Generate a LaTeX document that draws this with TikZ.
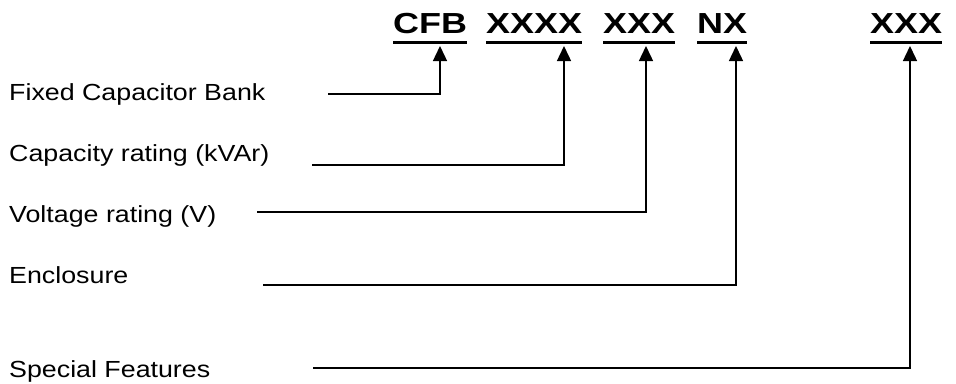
\documentclass[tikz,border=0pt]{standalone}
\usepackage{fontspec}
\usetikzlibrary{arrows.meta}
\newfontfamily\labelfont[FakeStretch=1.15]{Liberation Sans}
\newfontfamily\codefont[FakeStretch=1.24]{Liberation Sans Bold}

\begin{document}
\begin{tikzpicture}[x=1pt, y=-1pt,
  lbl/.style={inner sep=0pt, anchor=base west, font=\labelfont\fontsize{23.3}{26}\selectfont},
  code/.style={inner sep=0pt, anchor=base west, font=\codefont\fontsize{29}{32}\selectfont},
  uline/.style={line width=3.3pt},
  arr/.style={line width=1.4pt, -{Triangle[length=15pt, width=14pt]}}]

\useasboundingbox (0,0) rectangle (956,383);

\node[code] (cfb) at (393,33.3) {CFB};
\node[code] (kvar) at (486,33.3) {XXXX};
\node[code] (volt) at (603,33.3) {XXX};
\node[code] (encl) at (697,33.3) {NX};
\node[code] (feat) at (870,33.3) {XXX};

\draw[uline] ([yshift=-9pt]cfb.base west) -- ([yshift=-9pt]cfb.base east);
\draw[uline] ([yshift=-9pt]kvar.base west) -- ([yshift=-9pt]kvar.base east);
\draw[uline] ([yshift=-9pt]volt.base west) -- ([yshift=-9pt]volt.base east);
\draw[uline] ([yshift=-9pt]encl.base west) -- ([yshift=-9pt]encl.base east);
\draw[uline] ([yshift=-9pt]feat.base west) -- ([yshift=-9pt]feat.base east);

\node[lbl] (fcb) at (9,100) {Fixed Capacitor Bank};
\node[lbl] (cap) at (9,161) {Capacity rating (kVAr)};
\node[lbl] (vr) at (9,222) {Voltage rating (V)};
\node[lbl] (enc) at (9,283) {Enclosure};
\node[lbl] (spf) at (9,377) {Special Features};

\coordinate (S1) at (328,94);
\coordinate (S2) at (312,165);
\coordinate (S3) at (257,212);
\coordinate (S4) at (263,285);
\coordinate (S5) at (313,368);

\coordinate (T1) at (440,46);
\coordinate (T2) at (564,46);
\coordinate (T3) at (646,46);
\coordinate (T4) at (736,46);
\coordinate (T5) at (910,46);

\draw[arr] (S1) -| (T1);
\draw[arr] (S2) -| (T2);
\draw[arr] (S3) -| (T3);
\draw[arr] (S4) -| (T4);
\draw[arr] (S5) -| (T5);

\end{tikzpicture}
\end{document}
